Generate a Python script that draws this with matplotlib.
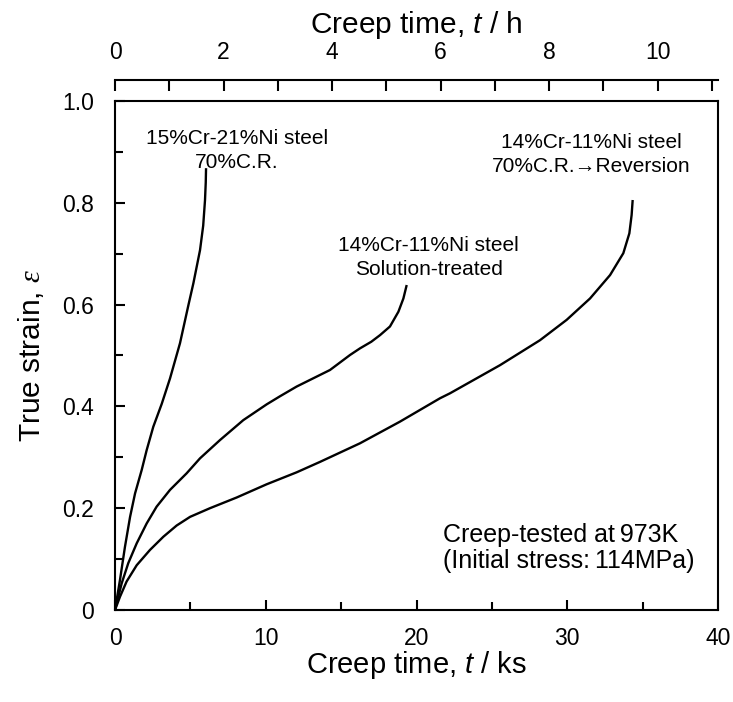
import matplotlib
matplotlib.use("Agg")
import matplotlib.pyplot as plt
from matplotlib.ticker import MultipleLocator, FixedLocator, FixedFormatter

plt.rcParams["font.family"] = ["Liberation Sans", "DejaVu Sans"]
plt.rcParams["mathtext.fontset"] = "custom"
plt.rcParams["mathtext.rm"] = "Liberation Sans"
plt.rcParams["mathtext.it"] = "Liberation Sans:italic"
plt.rcParams["mathtext.cal"] = "Liberation Serif:italic"

# Creep curves: time (ks) vs true strain
t_cr = [0, 0.33, 0.66, 1.0, 1.33, 1.77, 2.10, 2.54, 3.10, 3.65, 4.31, 4.87,
        5.20, 5.64, 5.85, 5.97, 6.02, 6.04]
e_cr = [0, 0.059, 0.124, 0.183, 0.229, 0.275, 0.314, 0.360, 0.405, 0.455,
        0.524, 0.599, 0.642, 0.707, 0.755, 0.805, 0.840, 0.868]

t_st = [0, 0.44, 0.88, 1.44, 2.10, 2.76, 3.65, 4.75, 5.64, 6.97, 8.51, 10.06,
        10.95, 12.05, 14.26, 15.59, 16.25, 17.0, 17.58, 18.24, 18.80, 19.13,
        19.35]
e_st = [0, 0.052, 0.092, 0.131, 0.170, 0.203, 0.236, 0.2685, 0.298, 0.334,
        0.373, 0.404, 0.420, 0.439, 0.4715, 0.501, 0.514, 0.527, 0.540, 0.557,
        0.586, 0.612, 0.6385]

t_rev = [0, 0.33, 0.77, 1.44, 2.32, 3.21, 4.09, 4.98, 6.30, 8.07, 10.06, 12.05,
         13.6, 16.25, 18.9, 21.56, 22.22, 25.54, 28.19, 29.96, 31.51, 32.84,
         33.72, 34.12, 34.27, 34.34]
e_rev = [0, 0.026, 0.056, 0.088, 0.118, 0.144, 0.166, 0.183, 0.200, 0.221,
         0.247, 0.2705, 0.291, 0.3275, 0.370, 0.416, 0.4257, 0.481, 0.530,
         0.570, 0.612, 0.658, 0.701, 0.740, 0.776, 0.8055]

x_ticks = [0, 10, 20, 30, 40]
y_ticks = [0, 0.2, 0.4, 0.6, 0.8, 1.0]
y_tick_labels = ["0", "0.2", "0.4", "0.6", "0.8", "1.0"]
h_ticks = [0, 2, 4, 6, 8, 10]

label_cr = "15%Cr-21%Ni steel\n70%C.R."
label_st = "14%Cr-11%Ni steel\nSolution-treated"
label_rev = "14%Cr-11%Ni steel\n70%C.R.\u2192Reversion"
label_cond = "Creep-tested at\u2009973K\n(Initial stress:\u2009114MPa)"

fig = plt.figure(figsize=(7.33, 7.02), dpi=100)
ax = fig.add_axes([115 / 733, 1 - 610 / 702, 603 / 733, 509 / 702])

lw_curve = 1.7
for t, e in [(t_cr, e_cr), (t_st, e_st), (t_rev, e_rev)]:
    ax.plot(t, e, color="black", lw=lw_curve, solid_capstyle="butt",
            solid_joinstyle="round")

ax.set_xlim(0, 40)
ax.set_ylim(0, 1.0)

ax.xaxis.set_major_locator(FixedLocator(x_ticks))
ax.xaxis.set_minor_locator(MultipleLocator(5))
ax.yaxis.set_major_locator(FixedLocator(y_ticks))
ax.yaxis.set_major_formatter(FixedFormatter(y_tick_labels))
ax.yaxis.set_minor_locator(MultipleLocator(0.1))

for s in ax.spines.values():
    s.set_linewidth(1.5)

ax.tick_params(which="both", direction="in", top=False, right=False,
               width=1.5, labelsize=16.5, pad=12.5)
ax.tick_params(axis="y", pad=15)
ax.tick_params(which="major", length=7.5)
ax.tick_params(which="minor", length=5.5)

ax.set_xlabel("Creep time, $t$ / ks", fontsize=21)
ax.xaxis.set_label_coords(0.5, (610 - 673) / 509)
ax.xaxis.label.set_va("baseline")

ax.set_ylabel(r"True strain, $\mathcal{\varepsilon}$", fontsize=21.5)
ax.yaxis.set_label_coords((31 - 115) / 603, 0.5)
ax.yaxis.label.set_va("center")

# Secondary time axis in hours, drawn above the frame
secax = ax.secondary_xaxis((610 - 80) / 509,
                           functions=(lambda x: x / 3.6, lambda h: h * 3.6))
secax.xaxis.set_major_locator(FixedLocator(h_ticks))
secax.xaxis.set_minor_locator(MultipleLocator(1))
secax.spines["top"].set_linewidth(1.5)
secax.tick_params(which="both", direction="in", width=1.5, labelsize=16.5,
                  pad=11.5)
secax.tick_params(which="major", length=8)
secax.tick_params(which="minor", length=8)
secax.set_xlabel("Creep time, $t$ / h", fontsize=21.5)
secax.xaxis.set_label_coords(0.5, (610 - 33) / 509, transform=ax.transAxes)
secax.xaxis.label.set_va("baseline")

# Multi-line labels are anchored at the baseline of their last line
ax.text(8.09, (610 - 168) / 509, label_cr, ha="center", va="baseline",
        fontsize=15, linespacing=1.3)
ax.text(20.8, (610 - 275) / 509, label_st, ha="center", va="baseline",
        fontsize=15, linespacing=1.3)
ax.text(31.6, (610 - 172) / 509, label_rev, ha="center", va="baseline",
        fontsize=15, linespacing=1.3)
ax.text(21.76, (610 - 568) / 509, label_cond, ha="left", va="baseline",
        multialignment="left", fontsize=18, linespacing=1.12)

fig.savefig("out.png", dpi=100)
